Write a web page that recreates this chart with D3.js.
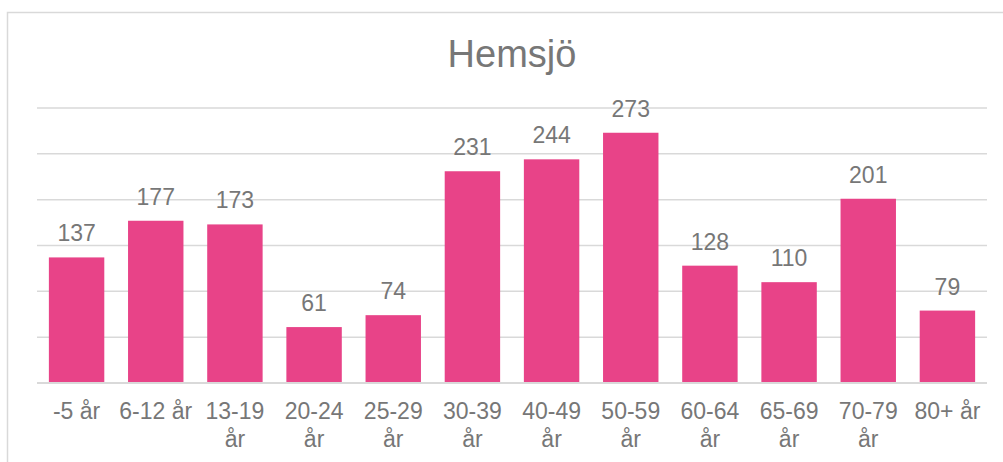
<!DOCTYPE html>
<html>
<head>
<meta charset="utf-8">
<script src="https://d3js.org/d3.v7.min.js"></script>
<style>
  body { margin: 0; background: #fff; }
  text { font-family: "Liberation Sans", Arial, sans-serif; fill: #777777; }
</style>
</head>
<body>
<svg width="1003" height="462"></svg>
<script>
var categories = ["-5 år", "6-12 år", "13-19 år", "20-24 år", "25-29 år", "30-39 år",
                  "40-49 år", "50-59 år", "60-64 år", "65-69 år", "70-79 år", "80+ år"];
var values = [137, 177, 173, 61, 74, 231, 244, 273, 128, 110, 201, 79];
var gridTicks = [0, 50, 100, 150, 200, 250, 300];

var svg = d3.select("svg");

// chart frame (runs off the right and bottom edges)
svg.append("rect")
   .attr("x", 7.5).attr("y", 12.5)
   .attr("width", 1010).attr("height", 470)
   .attr("fill", "none")
   .attr("stroke", "#d9d9d9")
   .attr("stroke-width", 1.5);

var plotLeft = 37, plotRight = 987, plotTop = 108, plotBottom = 383;

var x = d3.scaleBand()
    .domain(categories)
    .range([plotLeft, plotRight])
    .paddingInner(0.3)
    .paddingOuter(0.15);

var y = d3.scaleLinear().domain([0, 300]).range([plotBottom, plotTop]);

// gridlines
svg.append("g").selectAll("line")
   .data(gridTicks)
   .enter().append("line")
   .attr("x1", plotLeft).attr("x2", plotRight)
   .attr("y1", function(d) { return y(d); })
   .attr("y2", function(d) { return y(d); })
   .attr("stroke", "#d9d9d9")
   .attr("stroke-width", function(d) { return d === 0 ? 2 : 1.5; });

svg.append("text")
   .attr("x", 512).attr("y", 67)
   .attr("text-anchor", "middle")
   .style("font-size", "38px")
   .text("Hemsjö");

var data = categories.map(function(c, i) { return { cat: c, val: values[i] }; });

svg.append("g").selectAll("rect")
   .data(data)
   .enter().append("rect")
   .attr("x", function(d) { return x(d.cat); })
   .attr("y", function(d) { return y(d.val); })
   .attr("width", x.bandwidth())
   .attr("height", function(d) { return y(0) - y(d.val) - 1; })
   .attr("fill", "#e84388");

svg.append("g").selectAll("text")
   .data(data)
   .enter().append("text")
   .attr("x", function(d) { return x(d.cat) + x.bandwidth() / 2; })
   .attr("y", function(d) { return y(d.val) - 16; })
   .attr("text-anchor", "middle")
   .style("font-size", "23px")
   .text(function(d) { return d.val; });

// x axis labels, wrapped to the band step
var xAxis = svg.append("g")
   .attr("transform", "translate(0," + plotBottom + ")")
   .call(d3.axisBottom(x).tickSize(0).tickPadding(0));
xAxis.select(".domain").remove();
xAxis.selectAll("text")
   .style("font-size", "23px")
   .attr("fill", "#777777")
   .attr("dy", null)
   .attr("y", 36)
   .each(function() {
     var t = d3.select(this), words = t.text().split(" "), line = [], n = 0;
     t.text(null);
     var ts = t.append("tspan").attr("x", 0).attr("y", 36);
     words.forEach(function(w) {
       line.push(w);
       ts.text(line.join(" "));
       if (ts.node().getComputedTextLength() > x.step() && line.length > 1) {
         line.pop();
         ts.text(line.join(" "));
         line = [w];
         n++;
         ts = t.append("tspan").attr("x", 0).attr("y", 36 + n * 28).text(w);
       }
     });
   });
</script>
</body>
</html>
